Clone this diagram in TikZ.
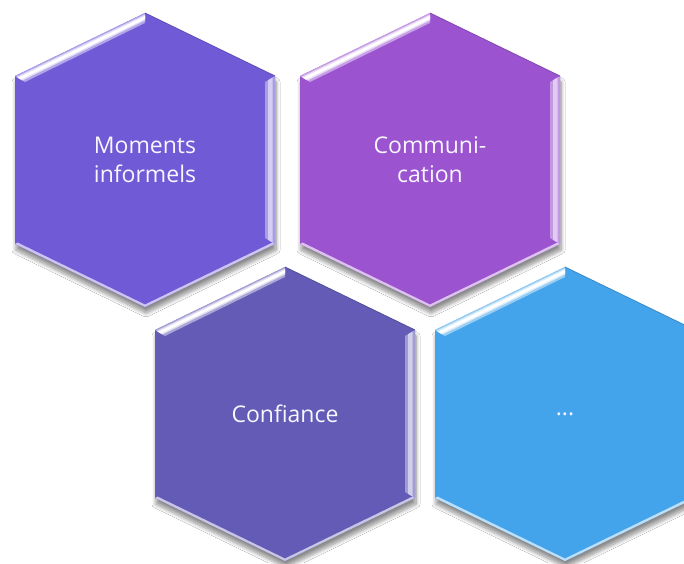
\documentclass[tikz,border=0pt]{standalone}
\usepackage{fontspec}
\setmainfont{Open Sans}
\usetikzlibrary{shadows.blur,calc}
\definecolor{hexA}{RGB}{113,90,214}
\definecolor{hexB}{RGB}{155,83,208}
\definecolor{hexC}{RGB}{99,91,181}
\definecolor{hexD}{RGB}{67,163,235}
\definecolor{txt}{RGB}{248,246,255}
\tikzset{
  hexbody/.style={fill=#1, blur shadow={shadow xshift=1pt, shadow yshift=-6pt, shadow blur radius=4pt, shadow opacity=45, shadow blur steps=8}},
  hexlabel/.style={text=txt, align=center, font=\fontsize{23}{29}\selectfont, inner sep=0pt},
}
% name, cx, cy, colour, text
\newcommand{\hexcell}[5]{%
 \begin{scope}[shift={(#2,#3)}]
  \coordinate (o1) at (0,-147); \coordinate (o2) at (130,-84); \coordinate (o3) at (130,84);
  \coordinate (o4) at (0,147); \coordinate (o5) at (-130,84); \coordinate (o6) at (-130,-84);
  \coordinate (i1) at (0,-137); \coordinate (i2) at (120,-78); \coordinate (i3) at (120,78);
  \coordinate (i4) at (0,137); \coordinate (i5) at (-120,78); \coordinate (i6) at (-120,-78);
  \path[hexbody=#4] (o1) -- (o2) -- (o3) -- (o4) -- (o5) -- (o6) -- cycle;
  % top-left bevel
  \fill[#4!55!white] (o6) -- (o1) -- (i1) -- (i6) -- cycle;
  \fill[#4!20!white] ($(o6)!0.15!(i6)$) -- ($(o1)!0.15!(i1)$) -- ($(o1)!0.75!(i1)$) -- ($(o6)!0.75!(i6)$) -- cycle;
  \fill[white] ($(o6)!0.3!(i6)$) -- ($(o1)!0.3!(i1)$) -- ($(o1)!0.6!(i1)$) -- ($(o6)!0.6!(i6)$) -- cycle;
  % right bevel
  \fill[#4!60!white] (o2) -- (o3) -- (i3) -- (i2) -- cycle;
  \fill[#4!30!white] ($(o2)!0.25!(i2)$) -- ($(o3)!0.25!(i3)$) -- ($(o3)!0.7!(i3)$) -- ($(o2)!0.7!(i2)$) -- cycle;
  % top-right thin edge
  \draw[#4!85!black, line width=0.8pt] (o1) -- (o2);
  % bottom bevels
  \fill[#4!35!white] (o3) -- (o4) -- ($(o4)!0.25!(i4)$) -- ($(o3)!0.25!(i3)$) -- cycle;
  \fill[#4!35!white] (o4) -- (o5) -- ($(o5)!0.25!(i5)$) -- ($(o4)!0.25!(i4)$) -- cycle;
  \node[hexlabel] (#1) at (0,0) {#5};
 \end{scope}
}
\begin{document}
\begin{tikzpicture}[x=1pt,y=-1pt]
\useasboundingbox (0,0) rectangle (684,563);
\clip (0,0) rectangle (684,563);
\fill[white] (0,0) rectangle (684,563);
\hexcell{moments}{145}{160}{hexA}{Moments\\informels}
\hexcell{comm}{430}{160}{hexB}{Communi-\\cation}
\hexcell{conf}{285}{414}{hexC}{Confiance}
\hexcell{etc}{565}{414}{hexD}{...}
\end{tikzpicture}
\end{document}
